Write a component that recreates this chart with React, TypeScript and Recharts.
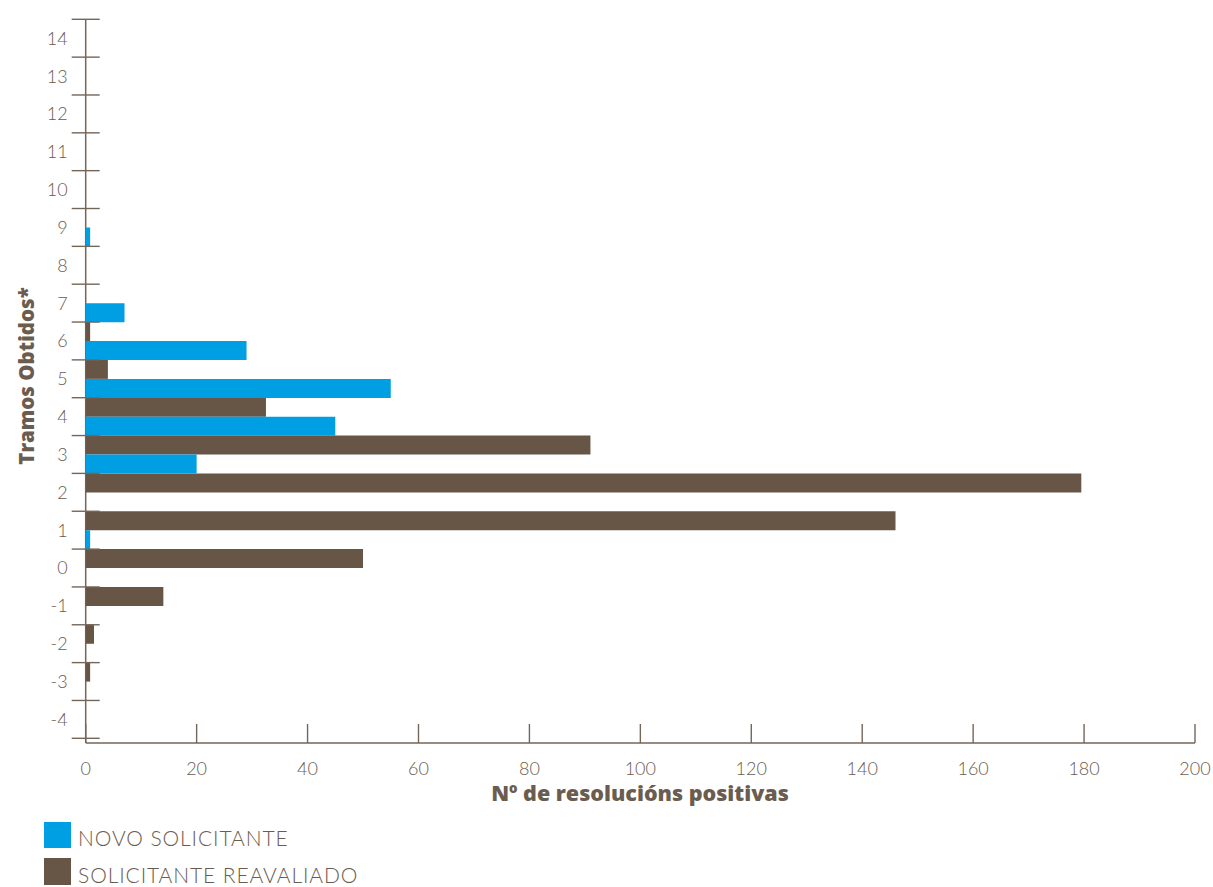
import { BarChart, Bar, XAxis, YAxis } from 'recharts'

// Tramos obtidos (top to bottom)
const tramos = ['14', '13', '12', '11', '10', '9', '8', '7', '6', '5', '4', '3', '2', '1', '0', '-1', '-2', '-3', '-4']
const novoSolicitante = [0, 0, 0, 0, 0, 0.8, 0, 7, 29, 55, 45, 20, 0, 0.8, 0, 0, 0, 0, 0]
const solicitanteReavaliado = [0, 0, 0, 0, 0, 0, 0, 0, 0.8, 4, 32.5, 91, 179.5, 146, 50, 14, 1.5, 0.8, 0]
const xTicks = [0, 20, 40, 60, 80, 100, 120, 140, 160, 180, 200]

const data = tramos.map((tramo, i) => ({
  tramo,
  novo: novoSolicitante[i],
  reavaliado: solicitanteReavaliado[i]
}))

const BLUE = '#009fe3'
const BROWN = '#675646'
const AXIS = '#75665a'
const TEXT = '#6b5c50'
const FONT = 'Lato, "Open Sans", sans-serif'
const BOLD_FONT = '"Open Sans", Lato, sans-serif'

const PLOT_TOP = 19.3
const AXIS_Y = 743
const PAD_BOTTOM = 4.7
const BAND = (AXIS_Y - PAD_BOTTOM - PLOT_TOP) / tramos.length

const YTick = ({ x, y, payload, index }: any) => (
  <g>
    <line x1={x - 14} x2={x + 14} y1={y - BAND / 2} y2={y - BAND / 2} stroke={AXIS} strokeWidth={1.4} />
    {index === tramos.length - 1 && (
      <line x1={x - 14} x2={x + 14} y1={y + BAND / 2} y2={y + BAND / 2} stroke={AXIS} strokeWidth={1.4} />
    )}
    <text x={x - 18} y={y} dy="0.36em" textAnchor="end" fontSize={18} fontWeight={300} fill={TEXT} fontFamily={FONT}>
      {payload.value}
    </text>
  </g>
)

const XTick = ({ x, y, payload }: any) => (
  <g>
    <line x1={x} x2={x} y1={y - 19} y2={y} stroke={AXIS} strokeWidth={1.4} />
    <text x={x} y={y + 26} dy="0.36em" textAnchor="middle" fontSize={18} fontWeight={300} fill={TEXT} fontFamily={FONT}>
      {payload.value}
    </text>
  </g>
)

export default function App() {
  return (
    <div style={{ position: 'absolute', left: 0, top: 0, width: 1213, height: 887, background: '#fff', fontFamily: FONT }}>
      <BarChart
        width={1213}
        height={887}
        data={data}
        layout="vertical"
        barCategoryGap={0}
        barGap={0}
        margin={{ top: PLOT_TOP, right: 18, left: 0, bottom: 104 }}
      >
        <XAxis
          type="number"
          domain={[0, 200]}
          ticks={xTicks}
          interval={0}
          height={40}
          tickSize={0}
          tickMargin={0}
          tickLine={false}
          axisLine={{ stroke: AXIS, strokeWidth: 1.5 }}
          tick={<XTick />}
        />
        <YAxis
          type="category"
          dataKey="tramo"
          width={85.7}
          interval={0}
          tickSize={0}
          tickMargin={0}
          tickLine={false}
          padding={{ top: 0, bottom: PAD_BOTTOM }}
          axisLine={{ stroke: AXIS, strokeWidth: 1.5 }}
          tick={<YTick />}
        />
        <Bar dataKey="reavaliado" fill={BROWN} isAnimationActive={false} zIndex={600} />
        <Bar dataKey="novo" fill={BLUE} isAnimationActive={false} zIndex={600} />
      </BarChart>

      <div
        style={{
          position: 'absolute',
          left: 340,
          width: 600,
          top: 779,
          textAlign: 'center',
          fontSize: 21.5,
          fontWeight: 800,
          fontFamily: BOLD_FONT,
          color: TEXT,
          lineHeight: '28px'
        }}
      >
        Nº de resolucións positivas
      </div>

      <div
        style={{
          position: 'absolute',
          left: 26 - 120,
          top: 376 - 14,
          width: 240,
          height: 28,
          lineHeight: '28px',
          textAlign: 'center',
          fontSize: 20.5,
          fontWeight: 800,
          fontFamily: BOLD_FONT,
          color: TEXT,
          transform: 'rotate(-90deg)'
        }}
      >
        Tramos Obtidos*
      </div>

      <div style={{ position: 'absolute', left: 44, top: 822, width: 27, height: 26, background: BLUE }} />
      <div style={{ position: 'absolute', left: 78, top: 825, fontSize: 21, fontWeight: 300, color: TEXT, lineHeight: '26px', letterSpacing: 0.9 }}>
        NOVO SOLICITANTE
      </div>
      <div style={{ position: 'absolute', left: 44, top: 858, width: 27, height: 27, background: BROWN }} />
      <div style={{ position: 'absolute', left: 78, top: 862, fontSize: 21, fontWeight: 300, color: TEXT, lineHeight: '26px', letterSpacing: 0.9 }}>
        SOLICITANTE REAVALIADO
      </div>
    </div>
  )
}
